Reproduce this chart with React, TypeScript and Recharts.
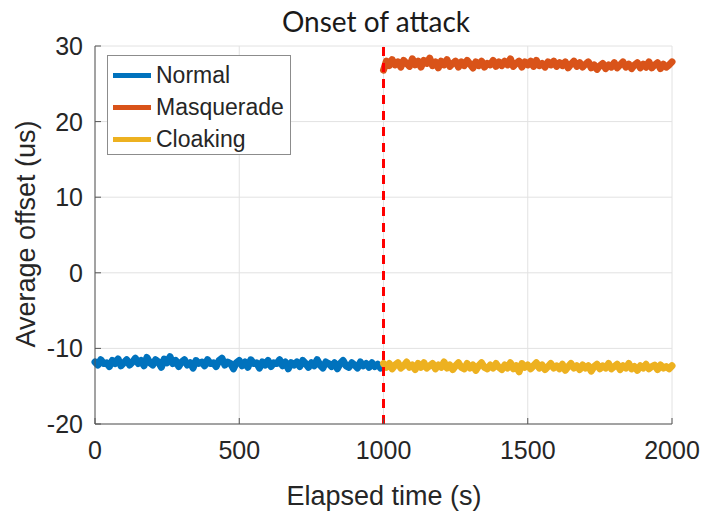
import React from "react";
import { LineChart, Line, XAxis, YAxis, CartesianGrid, ReferenceLine, Legend } from "recharts";

const TITLE = "Onset of attack";
const X_LABEL = "Elapsed time (s)";
const Y_LABEL = "Average offset (us)";
const X_TICKS = [0, 500, 1000, 1500, 2000];
const Y_TICKS = [-20, -10, 0, 10, 20, 30];
const ATTACK_ONSET = 1000;
const TIME_STEP = 10;
const NORMAL_START = 0;
const ATTACK_START = 1000;

const NORMAL = [
  -11.8, -12.2, -11.5, -12.0, -11.9, -12.4, -11.6, -12.0, -11.4, -12.3,
  -11.9, -11.5, -12.2, -11.8, -11.3, -12.0, -11.6, -12.3, -11.2, -11.9,
  -12.2, -11.5, -11.8, -12.5, -11.4, -11.9, -11.1, -12.0, -11.6, -12.4,
  -11.8, -11.5, -12.2, -11.9, -12.6, -11.6, -12.0, -11.8, -12.3, -11.5,
  -12.0, -11.9, -12.4, -11.6, -11.3, -12.2, -11.8, -12.0, -12.7, -11.9,
  -11.6, -12.3, -11.8, -12.5, -11.5, -12.0, -11.9, -12.6, -11.8, -12.2,
  -11.6, -12.4, -11.9, -12.0, -11.5, -12.3, -11.8, -12.7, -11.9, -12.2,
  -11.8, -12.4, -11.6, -12.0, -12.5, -11.9, -12.3, -11.5, -12.2, -12.6,
  -11.8, -12.0, -12.4, -11.9, -12.7, -12.0, -11.6, -12.3, -12.5, -11.9,
  -12.2, -12.6, -11.8, -12.3, -12.0, -12.5, -11.9, -12.4, -12.1, -12.6,
  -12.2,
];

const MASQUERADE = [
  26.8, 28.0, 27.4, 28.2, 27.5, 27.9, 27.2, 28.1, 27.7, 27.3,
  28.3, 27.5, 28.0, 27.2, 28.1, 27.7, 28.4, 27.4, 27.9, 27.1,
  28.0, 27.5, 28.2, 27.3, 27.7, 28.0, 27.2, 27.9, 27.4, 28.1,
  27.6, 27.1, 27.9, 27.4, 28.0, 27.2, 27.7, 27.5, 28.1, 27.3,
  27.9, 27.4, 28.0, 27.5, 28.3, 27.3, 27.7, 28.0, 27.2, 27.9,
  27.5, 28.0, 27.3, 28.1, 27.4, 27.7, 27.2, 27.9, 27.5, 28.0,
  27.3, 27.8, 27.4, 27.9, 27.1, 27.6, 28.0, 27.3, 27.8, 27.2,
  27.6, 27.9, 27.1, 27.5, 26.9, 27.4, 27.7, 27.0, 27.5, 27.2,
  27.8, 27.1, 27.5, 27.9, 27.2, 27.6, 27.0, 27.5, 27.8, 27.1,
  27.6, 27.2, 27.9, 27.1, 27.5, 27.8, 27.0, 27.6, 27.2, 27.5,
  27.9,
];

const CLOAKING = [
  -12.0, -12.5, -12.0, -12.7, -12.2, -11.9, -12.6, -12.3, -11.8, -12.5,
  -12.2, -12.8, -12.0, -12.5, -11.9, -12.6, -12.3, -12.0, -12.7, -12.2,
  -12.5, -11.8, -12.6, -12.2, -12.8, -12.3, -11.9, -12.5, -12.7, -12.0,
  -12.6, -12.2, -12.9, -12.3, -11.9, -12.5, -12.7, -12.2, -12.6, -12.0,
  -12.5, -12.8, -12.2, -12.6, -11.9, -12.7, -12.3, -13.1, -12.0, -12.5,
  -12.2, -12.7, -12.3, -11.9, -12.6, -12.2, -12.8, -12.4, -12.0, -12.6,
  -12.3, -12.7, -12.1, -12.9, -12.4, -12.0, -12.6, -12.3, -12.8, -12.2,
  -12.6, -12.3, -13.0, -12.4, -12.1, -12.7, -12.3, -12.6, -12.0, -12.7,
  -12.4, -12.1, -12.8, -12.3, -12.6, -12.0, -12.7, -12.4, -12.9, -12.3,
  -12.6, -12.1, -12.7, -12.4, -12.2, -12.8, -12.2, -12.6, -12.4, -12.7,
  -12.3,
];

const SERIES = [
  { name: "Normal", color: "#0072BD", values: NORMAL, start: NORMAL_START },
  { name: "Masquerade", color: "#D95319", values: MASQUERADE, start: ATTACK_START },
  { name: "Cloaking", color: "#EDB120", values: CLOAKING, start: ATTACK_START },
];

const toData = (values: number[], start: number) =>
  values.map((v, i) => ({ t: start + i * TIME_STEP, v }));

const FONT = "'Liberation Sans', Arial, Helvetica, sans-serif";
const TEXT_COLOR = "#262626";

const XTick = (props: any) => {
  const { x, payload } = props;
  return (
    <text x={x} y={459} textAnchor="middle" fontFamily={FONT} fontSize={25} fill={TEXT_COLOR}>
      {payload.value}
    </text>
  );
};

const YTick = (props: any) => {
  const { y, payload } = props;
  return (
    <text x={83} y={y + 9} textAnchor="end" fontFamily={FONT} fontSize={25} fill={TEXT_COLOR}>
      {payload.value}
    </text>
  );
};

const LegendBox = () => (
  <div
    style={{
      position: "absolute",
      left: 107,
      top: 55,
      width: 184,
      height: 100,
      border: "1px solid #8c8c8c",
      background: "#ffffff",
      boxSizing: "border-box",
    }}
  >
    {SERIES.map((s, i) => (
      <div
        key={s.name}
        style={{ position: "absolute", left: 5, top: 8 + i * 32, height: 22, display: "flex", alignItems: "center" }}
      >
        <div style={{ width: 38, height: 5, background: s.color }} />
        <span
          style={{
            marginLeft: 5,
            fontFamily: FONT,
            fontSize: 23,
            color: TEXT_COLOR,
            lineHeight: "22px",
            whiteSpace: "nowrap",
          }}
        >
          {s.name}
        </span>
      </div>
    ))}
  </div>
);

export default function App() {
  return (
    <div style={{ position: "absolute", left: 0, top: 0, width: 703, height: 515, background: "#fff" }}>
      <LineChart width={703} height={515} margin={{ top: 46, right: 31, bottom: 0, left: 0 }}>
        <CartesianGrid stroke="#e2e2e2" strokeWidth={1} />
        <XAxis
          type="number"
          dataKey="t"
          domain={[0, 2000]}
          ticks={X_TICKS}
          interval={0}
          height={91}
          tickSize={-6}
          tickMargin={22}
          stroke="#555555"
          tick={<XTick />}
          allowDuplicatedCategory={false}
        />
        <YAxis
          type="number"
          domain={[-20, 30]}
          ticks={Y_TICKS}
          interval={0}
          width={95}
          tickSize={-6}
          tickMargin={18}
          stroke="#555555"
          tick={<YTick />}
        />
        {SERIES.map((s) => (
          <Line
            key={s.name}
            data={toData(s.values, s.start)}
            dataKey="v"
            name={s.name}
            stroke={s.color}
            strokeWidth={7}
            dot={false}
            isAnimationActive={false}
            strokeLinejoin="round"
            strokeLinecap="round"
          />
        ))}
        <ReferenceLine x={ATTACK_ONSET} stroke="#ff0000" strokeWidth={3} strokeDasharray="9 7" />
        <Legend content={() => <LegendBox />} wrapperStyle={{ position: "absolute", left: 0, top: 0, width: 0, height: 0 }} />
      </LineChart>
      <svg
        width={703}
        height={515}
        style={{ position: "absolute", left: 0, top: 0, pointerEvents: "none" }}
      >
        <text x={376} y={32} textAnchor="middle" fontFamily="Lato, 'Open Sans', sans-serif" fontSize={28} fill="#1a1a1a">
          {TITLE}
        </text>
        <text x={384} y={505} textAnchor="middle" fontFamily={FONT} fontSize={27} fill={TEXT_COLOR}>
          {X_LABEL}
        </text>
        <text
          x={35}
          y={234}
          textAnchor="middle"
          transform="rotate(-90 35 234)"
          fontFamily={FONT}
          fontSize={27}
          fill={TEXT_COLOR}
        >
          {Y_LABEL}
        </text>
      </svg>
    </div>
  );
}
